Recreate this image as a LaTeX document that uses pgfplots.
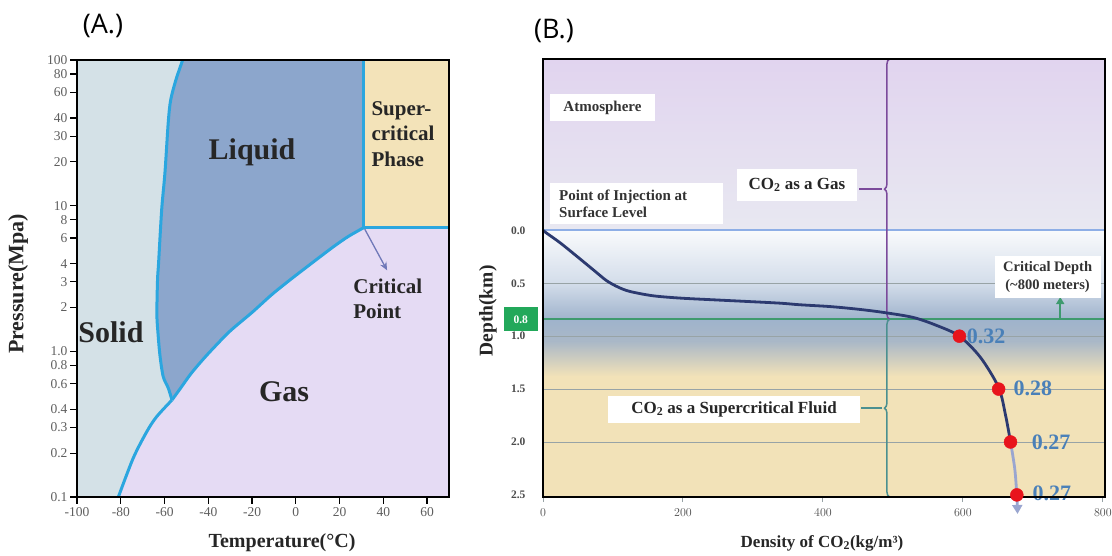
\documentclass[border=0pt]{standalone}
\usepackage{fontspec}
\setmainfont{Liberation Serif}
\newfontfamily\osans{Open Sans}
\usepackage{pgfplots}
\pgfplotsset{compat=1.18}
\usetikzlibrary{decorations.pathreplacing,arrows.meta}
\definecolor{solidc}{HTML}{D4E1E7}
\definecolor{liqc}{HTML}{8CA6CC}
\definecolor{gasc}{HTML}{E5DBF4}
\definecolor{supc}{HTML}{F3E3B9}
\definecolor{bnd}{HTML}{2BA6DF}
\definecolor{tickgray}{HTML}{5E5E5E}
\definecolor{cparrow}{HTML}{6F78B8}
\definecolor{navy}{HTML}{2C3A70}
\definecolor{lblblue}{HTML}{4A80B8}
\definecolor{lavtop}{HTML}{E1D4EF}
\definecolor{lavbot}{HTML}{E8E8F1}
\definecolor{wzero}{HTML}{F9FAFC}
\definecolor{bhalf}{HTML}{D3DDEA}
\definecolor{bcrit}{HTML}{9FB3CC}
\definecolor{bone}{HTML}{AAB8C7}
\definecolor{beige}{HTML}{F2E2B8}
\definecolor{blueline}{HTML}{8EAEE6}
\definecolor{grayline}{HTML}{98A3A6}
\definecolor{greenc}{HTML}{3E9A6E}
\definecolor{greenbox}{HTML}{22A85A}
\definecolor{purplec}{HTML}{7B4A9B}
\definecolor{tealc}{HTML}{4B9090}
\definecolor{redc}{HTML}{E8141C}
\definecolor{tailc}{HTML}{9AA6D0}
\begin{document}
\begin{tikzpicture}[x=1pt,y=1pt]
\useasboundingbox (0,0) rectangle (1112,556);
% ---------------- Panel A ----------------
\begin{axis}[
  at={(77pt,59pt)}, anchor=south west,
  scale only axis, width=372pt, height=437pt,
  xmin=-100, xmax=70, ymin=0.1, ymax=100, ymode=log,
  axis on top, axis line style={line width=2.5pt},
  xtick={-100,-80,-60,-40,-20,0,20,40,60},
  xticklabels={-100,-80,-60,-40,-20,0,20,40,60},
  ytick={0.1,0.2,0.3,0.4,0.6,0.8,1,2,3,4,6,8,10,20,30,40,60,80,100},
  yticklabels={0.1,0.2,0.3,0.4,0.6,0.8,1.0,2,3,4,6,8,10,20,30,40,60,80,100},
  yminorticks=false, xminorticks=false,
  tick align=outside, xtick pos=bottom, ytick pos=left,
  major tick length=7pt, tick style={line width=1.3pt, black},
  ticklabel style={font=\fontsize{13.5}{14}\selectfont, text=tickgray},
  yticklabel style={xshift=1pt},
]
% liquid colour as background
\addplot[fill=liqc, draw=none] coordinates {(-100,0.1)(70,0.1)(70,100)(-100,100)} -- cycle;
% solid region
\addplot[fill=solidc, draw=none, smooth] coordinates {
 (-51.7,100)(-54.8,73)(-57.2,53)(-58.3,37.3)(-59.8,16.9)
 (-61.3,9.4)(-62.7,4.08)(-63.2,3.09)(-63.5,1.82)(-63.1,1.40)(-62.1,0.94)
 (-60.6,0.67)(-58.3,0.56)(-56.6,0.463)} -- (axis cs:-63.6,0.356) -- (axis cs:-68.1,0.281) -- (axis cs:-74.3,0.185) -- (axis cs:-81.1,0.10) -- (axis cs:-100,0.1) -- (axis cs:-100,100) -- cycle;
% gas region
\addplot[fill=gasc, draw=none, smooth] coordinates {
 (-81.1,0.10)(-74.3,0.185)(-68.1,0.281)(-63.6,0.356)(-56.6,0.463)} -- (axis cs:70,0.1) -- cycle;
\addplot[fill=gasc, draw=none, smooth] coordinates {
 (-56.6,0.463)(-53,0.55)(-48,0.70)(-43,0.86)(-38,1.04)(-30,1.38)(-20,1.85)(-11,2.45)
 (-2.7,3.09)(7,4.0)(17,5.2)(24,6.15)(30.8,7.03)} -- (axis cs:70,7.03) -- (axis cs:70,0.1) -- (axis cs:-56.6,0.1) -- cycle;
% supercritical region
\addplot[fill=supc, draw=none] coordinates {(30.8,7.03)(70,7.03)(70,100)(30.8,100)} -- cycle;
% boundaries
\addplot[bnd, line width=3pt, smooth] coordinates {
 (-51.7,100)(-54.8,73)(-57.2,53)(-58.3,37.3)(-59.8,16.9)(-61.3,9.4)(-62.7,4.08)
 (-63.2,3.09)(-63.5,1.82)(-63.1,1.40)(-62.1,0.94)(-60.6,0.67)(-58.3,0.56)(-56.6,0.463)};
\addplot[bnd, line width=3pt, smooth] coordinates {
 (-81.1,0.10)(-74.3,0.185)(-68.1,0.281)(-63.6,0.356)(-56.6,0.463)};
\addplot[bnd, line width=3pt, smooth] coordinates {
 (-56.6,0.463)(-53,0.55)(-48,0.70)(-43,0.86)(-38,1.04)(-30,1.38)(-20,1.85)(-11,2.45)
 (-2.7,3.09)(7,4.0)(17,5.2)(24,6.15)(30.8,7.03)};
\addplot[bnd, line width=3pt] coordinates {(30.8,100)(30.8,7.03)(70,7.03)};
\draw[-{Stealth[length=8pt,width=7pt]}, cparrow, line width=1.3pt] (axis cs:31.5,6.9) -- (axis cs:41.7,3.6);
% region labels
\node[font=\bfseries\fontsize{30}{30}\selectfont, text=black!85] at (axis cs:-20,23.3) {Liquid};
\node[font=\bfseries\fontsize{30}{30}\selectfont, text=black!85] at (axis cs:-84.5,1.36) {Solid};
\node[font=\bfseries\fontsize{30}{30}\selectfont, text=black!85] at (axis cs:-5.4,0.526) {Gas};
\node[font=\bfseries\fontsize{21}{25.5}\selectfont, text=black!85, align=left, anchor=west, inner sep=0pt] at (axis cs:34.5,31) {Super-\\critical\\Phase};
\node[font=\bfseries\fontsize{21}{25.5}\selectfont, text=black!85, align=left, anchor=west, inner sep=0pt] at (axis cs:26.2,2.3) {Critical\\Point};
\end{axis}
% ---------------- Panel B ----------------
\begin{axis}[
  at={(543pt,59pt)}, anchor=south west,
  scale only axis, width=562pt, height=438pt,
  xmin=0, xmax=803, ymin=-1.62, ymax=2.52, y dir=reverse,
  axis on top, axis line style={line width=2.5pt}, clip=false,
  xtick={0,200,400,600,800},
  ytick={0,0.5,1,1.5,2,2.5}, yticklabels={0.0,0.5,1.0,1.5,2.0,2.5},
  extra y ticks={0.84}, extra y tick labels={0.8},
  extra y tick style={yticklabel style={fill=greenbox, text=white, minimum width=34pt, minimum height=24pt, inner sep=0pt, xshift=9pt}},
  tick align=outside, xtick pos=bottom, ytick pos=left,
  ytick style={draw=none}, xtick style={grayline, line width=1pt}, major tick length=5pt,
  ticklabel style={font=\bfseries\fontsize{11.5}{12}\selectfont, text=black!70},
  yticklabel style={xshift=-9pt},
  xticklabel style={yshift=-3pt},
]
% backgrounds
\fill[top color=lavtop, bottom color=lavbot] (axis cs:0,-1.62) rectangle (axis cs:803,0);
\fill[top color=wzero, bottom color=bhalf] (axis cs:0,0) rectangle (axis cs:803,0.5);
\fill[top color=bhalf, bottom color=bcrit] (axis cs:0,0.5) rectangle (axis cs:803,0.84);
\fill[top color=bcrit, bottom color=bone] (axis cs:0,0.84) rectangle (axis cs:803,1.05);
\fill[top color=bone, bottom color=beige] (axis cs:0,1.05) rectangle (axis cs:803,1.38);
\fill[beige] (axis cs:0,1.38) rectangle (axis cs:803,2.52);
% horizontal lines
\draw[grayline, line width=0.9pt] (axis cs:0,0.5) -- (axis cs:803,0.5);
\draw[grayline, line width=0.9pt] (axis cs:0,1.0) -- (axis cs:803,1.0);
\draw[grayline, line width=0.9pt] (axis cs:0,1.5) -- (axis cs:803,1.5);
\draw[grayline, line width=0.9pt] (axis cs:0,2.0) -- (axis cs:803,2.0);
\draw[blueline, line width=2pt] (axis cs:0,0) -- (axis cs:803,0);
\draw[greenc, line width=2pt] (axis cs:0,0.84) -- (axis cs:803,0.84);
% braces
\draw[purplec, line width=1.5pt, decorate, decoration={brace, amplitude=5pt}] (axis cs:495,0.84) -- (axis cs:495,-1.62);
\draw[tealc, line width=1.5pt, decorate, decoration={brace, amplitude=5pt}] (axis cs:495,2.52) -- (axis cs:495,0.84);
\draw[purplec, line width=1.5pt] (axis cs:452,-0.39) -- (axis cs:485,-0.39);
\draw[tealc, line width=1.5pt] (axis cs:455,1.68) -- (axis cs:485,1.68);
% critical depth arrow
\draw[-{Triangle[length=7pt,width=8pt]}, greenc, line width=1.6pt] (axis cs:739,0.84) -- (axis cs:739,0.63);
% text boxes
\node[fill=white, minimum width=105pt, minimum height=27pt, inner sep=0pt, font=\bfseries\fontsize{15}{17}\selectfont, text=black!80] at (axis cs:85,-1.16) {Atmosphere};
\node[fill=white, minimum width=173pt, minimum height=41pt, inner sep=0pt] at (axis cs:133.6,-0.255) {};
\node[anchor=west, align=left, inner sep=0pt, font=\bfseries\fontsize{15}{17}\selectfont, text=black!80] at (axis cs:22.9,-0.255) {Point of Injection at\\Surface Level};
\node[fill=white, minimum width=120pt, minimum height=32pt, inner sep=0pt, font=\bfseries\fontsize{17}{19}\selectfont, text=black!85] at (axis cs:362.9,-0.429) {CO\textsubscript{2} as a Gas};
\node[fill=white, minimum width=252pt, minimum height=27pt, inner sep=0pt, font=\bfseries\fontsize{17}{19}\selectfont, text=black!85] at (axis cs:272.9,1.689) {CO\textsubscript{2} as a Supercritical Fluid};
\node[fill=white, minimum width=106pt, minimum height=42pt, inner sep=0pt, align=center, font=\bfseries\fontsize{14.5}{18}\selectfont, text=black!80] at (axis cs:721,0.439) {Critical Depth\\(\textasciitilde800 meters)};
% dot labels
\node[font=\bfseries\fontsize{22}{22}\selectfont, text=lblblue] at (axis cs:633,1.0) {0.32};
\node[font=\bfseries\fontsize{22}{22}\selectfont, text=lblblue] at (axis cs:700,1.49) {0.28};
\node[font=\bfseries\fontsize{22}{22}\selectfont, text=lblblue] at (axis cs:726,2.0) {0.27};
\node[font=\bfseries\fontsize{22}{22}\selectfont, text=lblblue] at (axis cs:727,2.49) {0.27};
% density curve
\addplot[navy, line width=2.8pt, smooth] coordinates {
 (0,0)(6,0.03)(25,0.12)(53,0.27)(75,0.39)(91,0.476)(107,0.535)(124,0.577)(157,0.618)
 (196,0.64)(243,0.656)(292,0.672)(339,0.688)(367,0.703)(410,0.72)(450,0.745)(486,0.775)
 (529,0.823)(563,0.90)(595,1.0)(625,1.2)(651,1.485)(661,1.75)(668,2.0)};
\addplot[tailc, line width=2.8pt, smooth, -{Triangle[length=9pt,width=10pt]}] coordinates {
 (668,2.0)(674,2.25)(677,2.5)(678,2.68)};
\addplot[only marks, mark=*, mark size=6.5pt, color=redc] coordinates {
 (595,1.0)(651,1.5)(668,2.0)(677,2.5)};
\end{axis}
% titles and axis labels
\node[font=\osans\fontsize{27}{27}\selectfont] at (103,530) {(A.)};
\node[font=\osans\fontsize{27}{27}\selectfont] at (554,525) {(B.)};
\node[rotate=90, font=\bfseries\fontsize{22}{22}\selectfont, text=black!85] at (18,272) {Pressure(Mpa)};
\node[font=\bfseries\fontsize{20}{20}\selectfont, text=black!85] at (282,13) {Temperature(°C)};
\node[rotate=90, font=\bfseries\fontsize{19.5}{20}\selectfont, text=black!85] at (488,245) {Depth(km)};
\node[font=\bfseries\fontsize{17}{17}\selectfont, text=black!85] at (822,13) {Density of CO\textsubscript{2}(kg/m³)};
\end{tikzpicture}
\end{document}
